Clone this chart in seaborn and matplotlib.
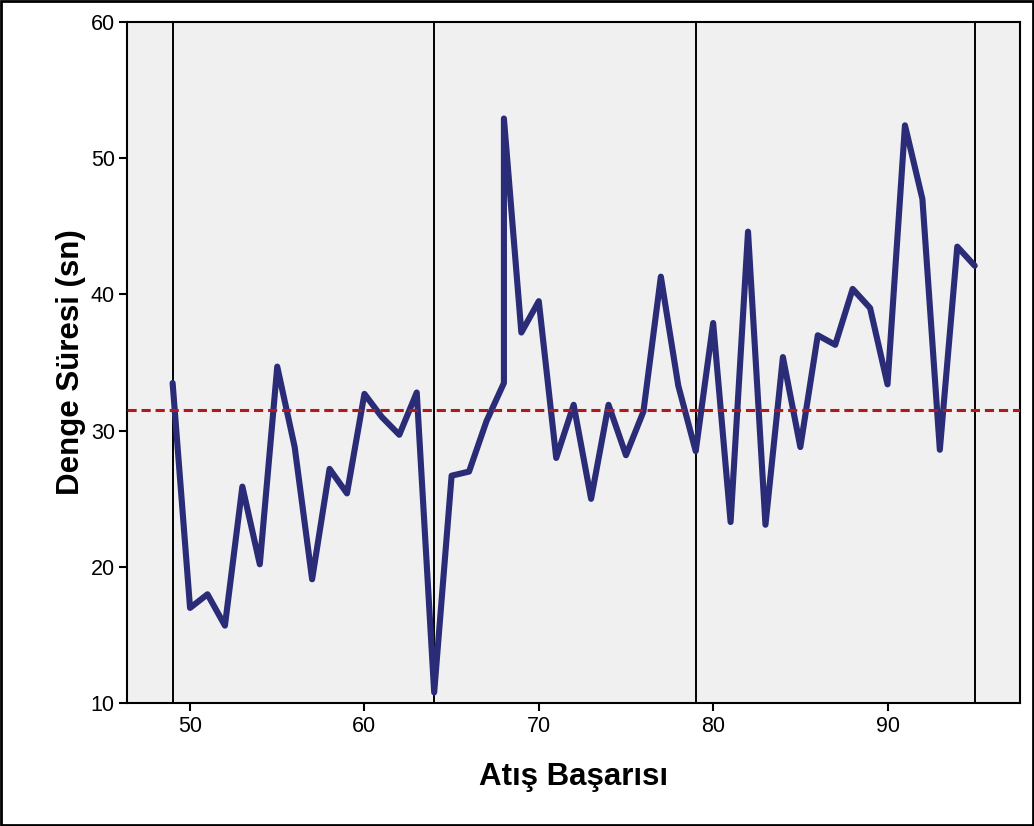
import numpy as np
import pandas as pd
import matplotlib
matplotlib.use("Agg")
import matplotlib.pyplot as plt
from matplotlib.patches import Rectangle
import seaborn as sns

# values
atis = [49, 50, 51, 52, 53, 54, 55, 56, 57, 58, 59, 60, 61, 62, 63, 64,
        65, 66, 67, 68, 68, 69, 70, 71, 72, 73, 74, 75, 76, 77, 78, 79,
        80, 81, 82, 83, 84, 85, 86, 87, 88, 89, 90, 91, 92, 93, 94, 95]
denge = [33.5, 17.0, 18.0, 15.7, 25.9, 20.2, 34.7, 28.8, 19.1, 27.2, 25.4, 32.7,
         31.0, 29.7, 32.8, 10.8,
         26.7, 27.0, 30.7, 33.5, 52.9, 37.2, 39.5, 28.0, 31.9, 25.0, 31.9, 28.2,
         31.4, 41.3, 33.3, 28.5,
         37.9, 23.3, 44.6, 23.1, 35.4, 28.8, 37.0, 36.3, 40.4, 39.0, 33.4, 52.4,
         47.0, 28.6, 43.5, 42.1]
ref_mean = 31.5
phase_lines = [49, 64, 79, 95]
x_ticks = [50, 60, 70, 80, 90]
y_ticks = [10, 20, 30, 40, 50, 60]

df = pd.DataFrame({"atis": atis, "denge": denge})

sns.set_style("white")
plt.rcParams['font.family'] = ['Liberation Sans', 'DejaVu Sans']
plt.rcParams['text.color'] = 'black'
plt.rcParams['axes.labelcolor'] = 'black'

fig = plt.figure(figsize=(10.34, 8.26), dpi=100)
ax = fig.add_axes([0.1231, 0.1485, 0.8634, 0.8252])
ax.set_facecolor('#f0f0f0')

for xv in phase_lines:
    ax.axvline(xv, color='black', linewidth=1.4, zorder=1)

sns.lineplot(data=df, x="atis", y="denge", sort=False, estimator=None,
             color='#2b2c78', linewidth=4.4, ax=ax, zorder=3)
ax.axhline(ref_mean, color='#b2191d', linestyle=(0, (3, 1.6)), linewidth=2.2, zorder=4)

ax.set_xlim(46.4, 97.6)
ax.set_ylim(10, 60)
ax.set_xticks(x_ticks)
ax.set_yticks(y_ticks)
ax.tick_params(axis='both', direction='out', length=6, width=1.5, labelsize=15.5,
               bottom=True, left=True, colors='black', pad=3)
for s in ax.spines.values():
    s.set_visible(True)
    s.set_color('black')
    s.set_linewidth(1.5)

ax.set_xlabel("Atış Başarısı", fontsize=22.5, fontweight='bold', labelpad=18)
ax.set_ylabel("Denge Süresi (sn)", fontsize=22.5, fontweight='bold', labelpad=3)

fig.patches.append(Rectangle((0.001, 0.001), 0.998, 0.998, transform=fig.transFigure,
                             fill=False, edgecolor='black', linewidth=2))

fig.savefig("out.png", dpi=100)
